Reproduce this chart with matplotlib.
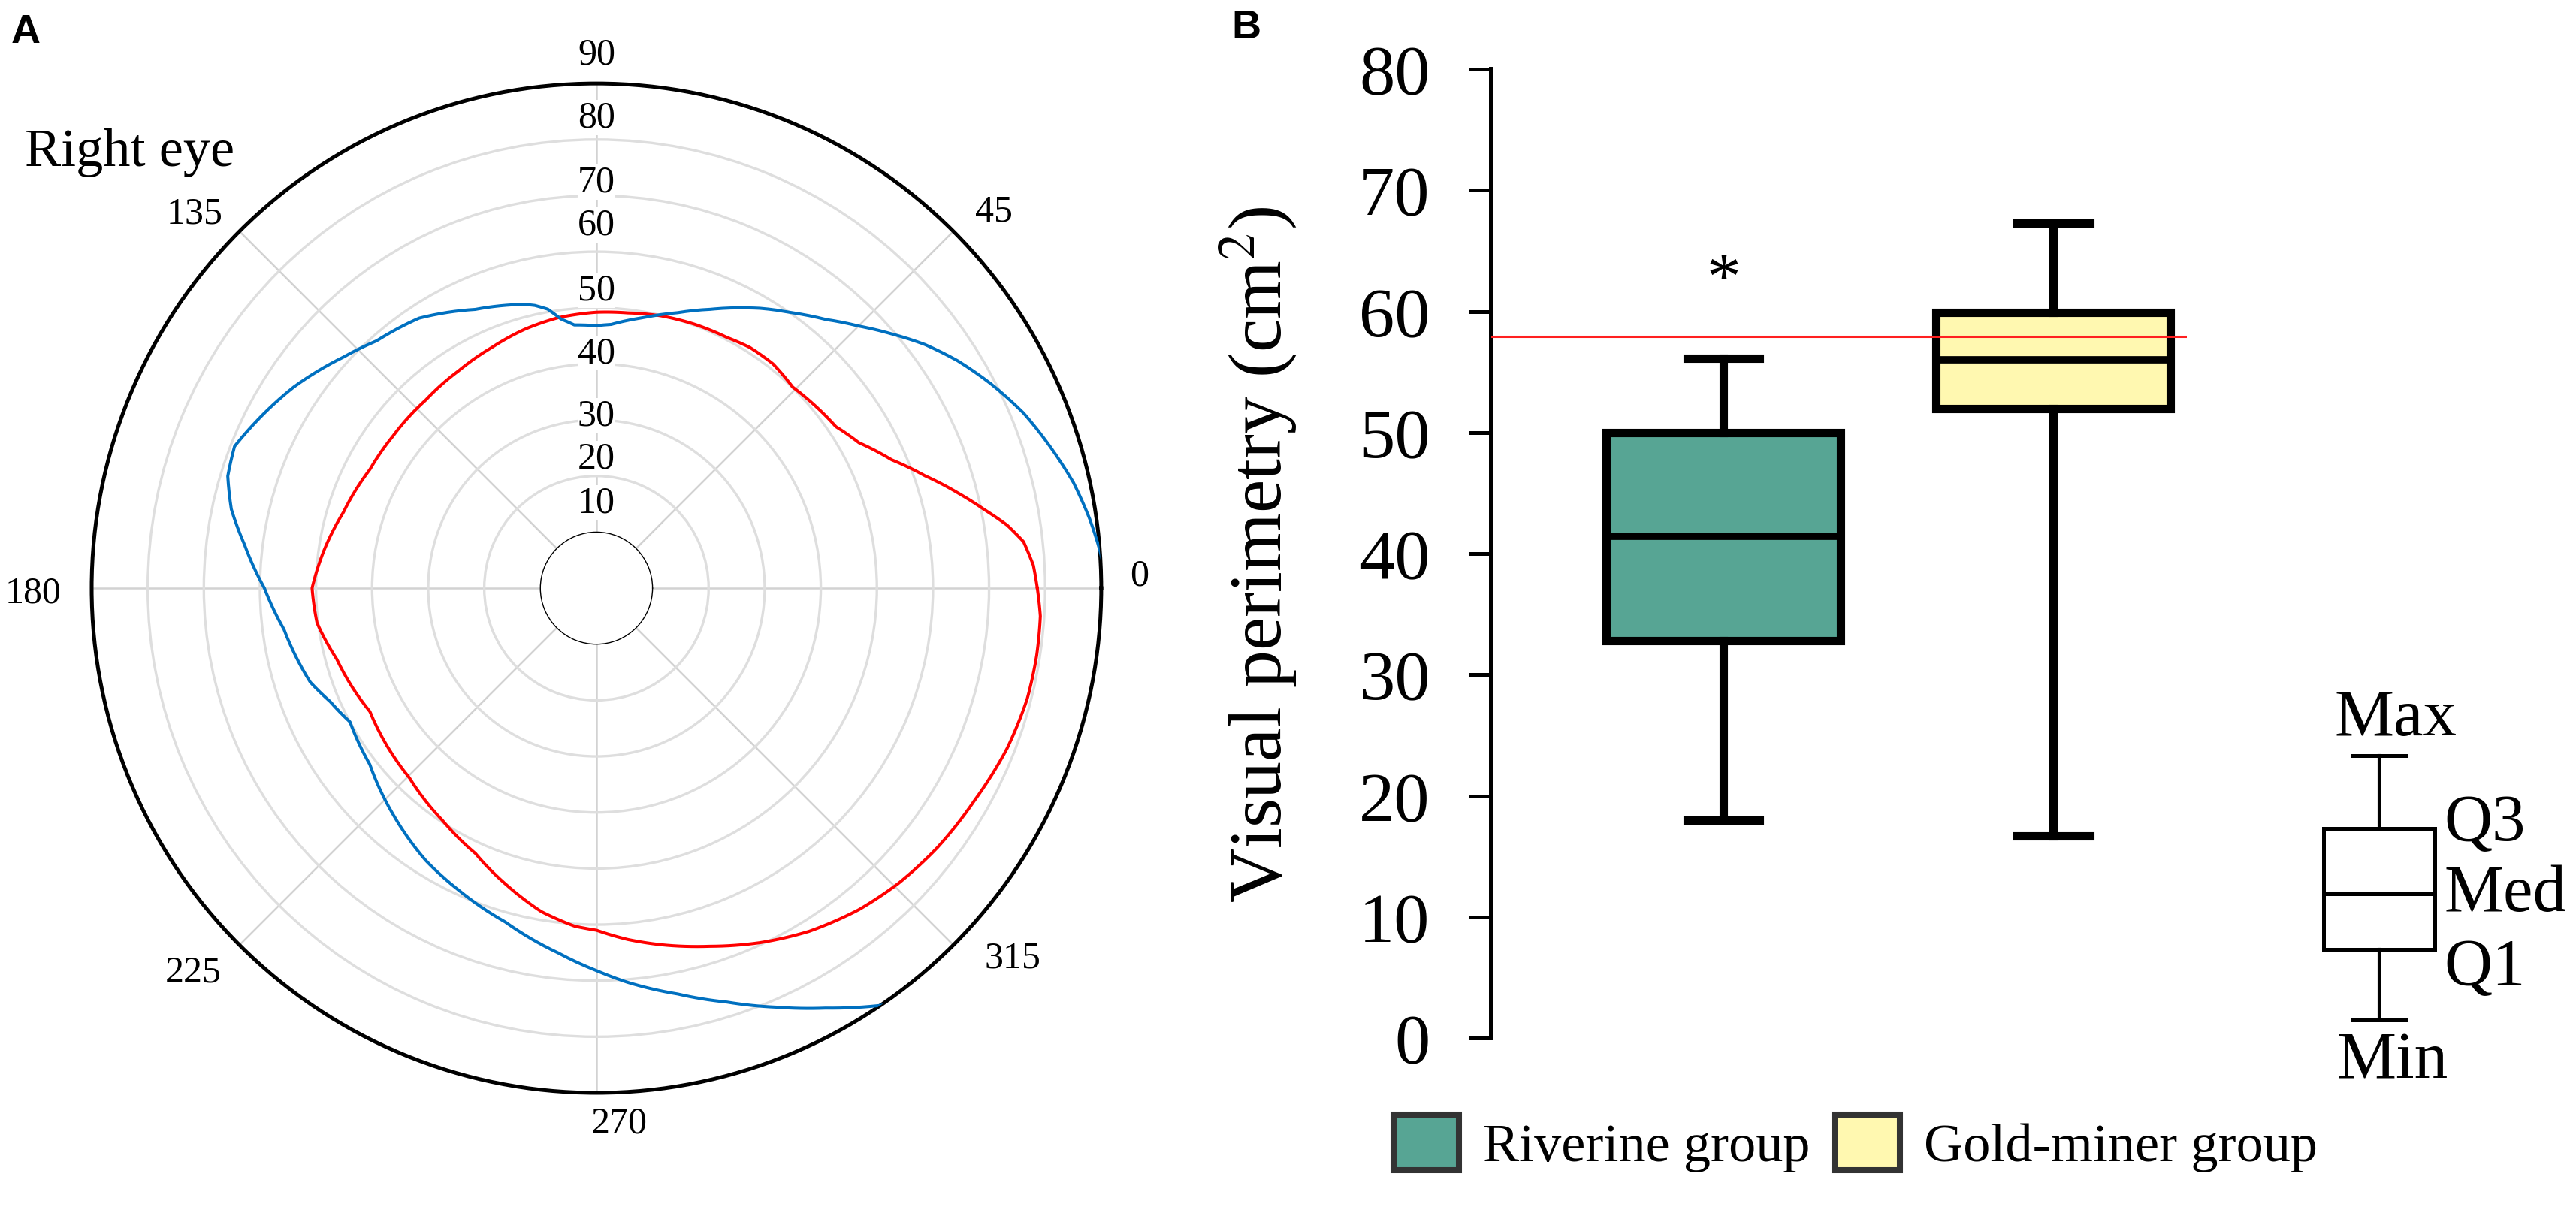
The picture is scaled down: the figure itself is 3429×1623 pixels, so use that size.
import numpy as np
import matplotlib
matplotlib.use('Agg')
import matplotlib.pyplot as plt
from matplotlib.patches import Patch

plt.rcParams['font.family'] = ['Liberation Serif', 'DejaVu Serif']
plt.rcParams['mathtext.fontset'] = 'stix'

# ---- panel A : polar perimetry (right eye) ----
red_deg = [0, 3.0, 6.2, 8.7, 11.5, 14.8, 18.9, 23.5, 29, 34, 40.5, 45.7, 51.8, 57.5, 62.5,
           69.8, 76.7, 83.5, 90, 98.1, 105.5, 113.5, 122.3, 132.2, 137.5, 143.3, 152.3,
           163.3, 172.4, 180, 187.1, 195.3, 208.6, 225.4, 236.5, 245.5, 253.6, 260.3,
           266.3, 270, 275.1, 280.2, 287.6, 294.7, 301.8, 309.2, 315.6, 322.8, 330.6,
           338.7, 345.6, 351.3, 356.4, 360]
red_r = [78.6, 78.0, 76.6, 74.1, 70.5, 66.6, 61.9, 57.4, 53.5, 51.5, 50.7, 50.1, 50.9, 50.9, 50.4,
         50.2, 49.9, 49.4, 49.2, 48.7, 47.9, 46.8, 45.9, 45.3, 45.3, 45.3, 45.6,
         47.1, 49.1, 50.7, 50.2, 48.0, 46.0, 47.5, 49.7, 52.0, 55.5, 58.5,
         60.4, 61.0, 62.9, 64.6, 67.0, 69.6, 72.0, 74.0, 75.3, 76.4, 77.3,
         78.6, 79.3, 79.4, 79.3, 78.6]
blue_deg = [0, 4.3, 8.0, 12.5, 17.4, 22.3, 27.4, 32.2, 36.6, 40.7, 45, 49.5, 54.5, 59.7, 62.4,
            67.8, 73.6, 80, 86.8, 90, 94.8, 97.5, 99.9, 102.3, 104.2, 113.5, 123.3, 131.6,
            137.6, 146.4, 154.3, 158.6, 163.1, 167.8, 173, 180, 187.5, 198.2, 203.1, 208.5,
            217.9, 227.9, 237.9, 245.5, 254.7, 264, 270, 274.5, 281.3, 287.5, 293.2, 298.6,
            304.7, 315, 330, 345, 360]
blue_r = [91.2, 90.0, 88.8, 87.1, 84.7, 82.3, 79.2, 76.1, 72.9, 69.5, 66.1, 63.0, 60.3, 57.8, 56.4,
          53.7, 51.2, 49.0, 47.1, 46.8, 47.1, 48.4, 50.5, 51.6, 52.2, 54.2, 57.6, 59.0,
          61.1, 64.8, 67.7, 69.3, 68.7, 66.6, 63.2, 59.2, 56.2, 53.7, 51.6, 50.0,
          51.2, 54.2, 57.3, 59.2, 61.7, 65.4, 68.2, 70.5, 73.8, 77.4, 81.3, 85.3,
          90.4, 94, 97, 96, 91.2]
theta_ticks = [0, 45, 90, 135, 180, 225, 270, 315]
ring_vals = [20, 30, 40, 50, 60, 70, 80]
r_labels = ['10', '20', '30', '40', '50', '60', '70', '80']

# ---- panel B : box plot ----
groups = ['Riverine group', 'Gold-miner group']
whis_lo = [18.0, 16.7]
q1 = [32.8, 52.0]
med = [41.4, 56.0]
q3 = [50.0, 59.9]
whis_hi = [56.1, 67.3]
box_colors = ['#57a594', '#fff8b0']
ref_line = 57.9
key_vals = [1.5, 7.3, 11.9, 17.3, 23.3]   # min, q1, med, q3, max of the key box
key_names = ['Min', 'Q1', 'Med', 'Q3', 'Max']

fig = plt.figure(figsize=(34.3, 16.24), dpi=100)

axp = fig.add_axes([0.03557, 0.1034, 0.3918, 0.8276], projection='polar')
axp.set_rorigin(0)
axp.set_rlim(10, 90)
axp.set_xticks(np.deg2rad(theta_ticks))
axp.set_xticklabels([])
axp.set_yticks(ring_vals)
axp.set_yticklabels([])
axp.yaxis.grid(True, color='#dedede', lw=2.4)
axp.xaxis.grid(True, color='#d2d2d2', lw=1.8)
axp.spines['polar'].set_linewidth(3.6)
axp.spines['polar'].set_color('black')
axp.spines['inner'].set_linewidth(1.0)
axp.spines['inner'].set_color('black')

for deg, rr, col in [(red_deg, red_r, '#ff0000'), (blue_deg, blue_r, '#0070c0')]:
    ln, = axp.plot(np.deg2rad(deg), rr, color=col, lw=2.9, zorder=4)
    ln.get_path()._interpolation_steps = 8

# radial labels (placed along the 90 deg spoke, as in the original)
r_label_pos = [15.3, 23.2, 30.8, 41.9, 53.1, 64.8, 72.4, 83.9]
for s, rp in zip(r_labels, r_label_pos):
    axp.text(np.pi / 2, rp, s, ha='center', va='center', fontsize=36, zorder=6,
             bbox=dict(facecolor='white', edgecolor='none', pad=0))

# angle labels
ang_label_pos = [(1.3, 96.8), (43.5, 97.6), (90, 95.2), (137, 98.0), (180.5, 100.4),
                 (223.6, 99.2), (272.4, 95.5), (318.4, 99.2)]
for t, (a, rp) in zip(theta_ticks, ang_label_pos):
    axp.text(np.deg2rad(a), rp, str(t), ha='center', va='center', fontsize=36)

fig.text(173 / 3430, 1 - 204 / 1624, 'Right eye', ha='center', va='center', fontsize=52)
fig.text(15 / 3430, 1 - 18 / 1624, 'A', ha='left', va='top', fontsize=39,
         family='Liberation Sans', weight='bold')
fig.text(1639 / 3430, 1 - 12 / 1624, 'B', ha='left', va='top', fontsize=39,
         family='Liberation Sans', weight='bold')

# ---- box plot axes ----
axb = fig.add_axes([0.5787, 0.1484, 0.270, 0.7943])
stats = []
for i in range(2):
    stats.append(dict(label=groups[i], whislo=whis_lo[i], q1=q1[i], med=med[i],
                      q3=q3[i], whishi=whis_hi[i], fliers=[]))
art = axb.bxp(stats, positions=[1, 2], widths=0.71, capwidths=0.22, patch_artist=True,
              showfliers=False, manage_ticks=False,
              boxprops=dict(lw=8, edgecolor='black'),
              medianprops=dict(color='black', lw=7),
              whiskerprops=dict(lw=8, color='black'),
              capprops=dict(lw=8, color='black'))
for patch, c in zip(art['boxes'], box_colors):
    patch.set_facecolor(c)

kstats = [dict(whislo=key_vals[0], q1=key_vals[1], med=key_vals[2], q3=key_vals[3],
               whishi=key_vals[4], fliers=[])]
kart = axb.bxp(kstats, positions=[2.989], widths=0.337, capwidths=0.163, patch_artist=True,
               showfliers=False, manage_ticks=False,
               boxprops=dict(lw=3.6, edgecolor='black', facecolor='white'),
               medianprops=dict(color='black', lw=3.6),
               whiskerprops=dict(lw=3.0, color='black'),
               capprops=dict(lw=3.6, color='black'))
for k in kart:
    for a in kart[k]:
        a.set_clip_on(False)

key_pos = [(3.027, -1.9, 'center'), (3.185, 5.8, 'left'), (3.185, 11.9, 'left'),
           (3.185, 17.7, 'left'), (3.039, 26.4, 'center')]
for name, (kx, ky, ha) in zip(key_names, key_pos):
    axb.text(kx, ky, name, ha=ha, va='center', fontsize=64, clip_on=False)

axb.axhline(ref_line, color='#ff2020', lw=2.2, zorder=5)
axb.text(1, 62.4, '*', ha='center', va='center', fontsize=66)

axb.set_xlim(0.296, 2.405)
axb.set_ylim(0, 80)
axb.set_yticks(range(0, 81, 10))
axb.set_xticks([])
for s in ['top', 'right', 'bottom']:
    axb.spines[s].set_visible(False)
axb.spines['left'].set_linewidth(4.3)
axb.tick_params(axis='y', length=21.6, width=3.6, pad=37, labelsize=68)
axb.set_ylabel('Visual perimetry (cm$^2$)', fontsize=72)
axb.yaxis.label.set_va('center')
axb.yaxis.set_label_coords((1675 - 1985) / 926, 0.5)

handles = [Patch(facecolor=c, edgecolor='#333333', lw=5.8, label=g)
           for c, g in zip(box_colors, groups)]
fig.legend(handles=handles, loc='center left', bbox_to_anchor=(1855 / 3430, 101 / 1624),
           ncol=2, frameon=False, fontsize=52, handlelength=1.2, handleheight=1.2,
           handletextpad=0.45, columnspacing=0.45, borderpad=0, borderaxespad=0)

fig.savefig('out.png', dpi=100, facecolor='white')
